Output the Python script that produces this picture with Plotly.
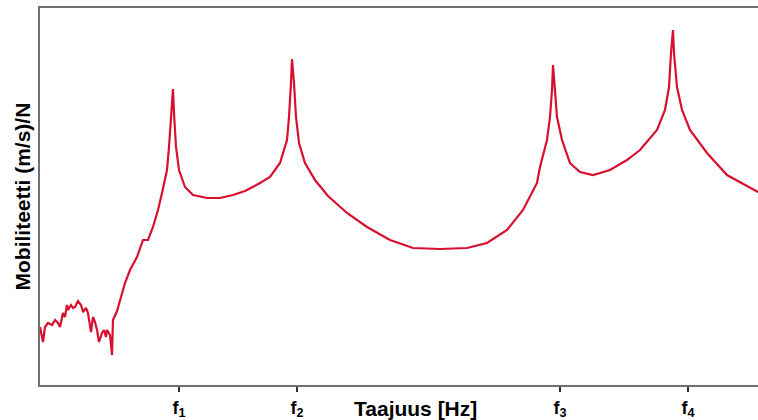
import plotly.graph_objects as go

# Frequency (arbitrary units) and mobility (arbitrary units)
freq = [0, 3, 5, 8, 12, 15, 18, 20, 23, 25, 27, 28, 31, 33, 35, 38, 41, 43, 46, 48,
        51, 53, 55, 57, 59, 62, 64, 66, 67, 70, 72, 73, 77,
        82, 85, 90, 97, 103, 108, 113, 118, 122, 127, 129, 131, 133, 134, 136, 139,
        145, 153, 167, 180, 193, 205, 213, 220, 230, 240, 247, 249, 251, 252, 254,
        256, 259, 265, 275, 288, 307, 327, 350, 373, 400, 427, 447, 467, 483, 490,
        497, 500, 507, 510, 512, 513, 515, 517, 522, 530, 540, 553, 570, 587, 600,
        617, 625, 629, 631, 633, 634, 637, 642, 650, 667, 687, 718]
mobility = [58, 43, 58, 62, 60, 65, 62, 58, 72, 68, 80, 75, 80, 77, 78, 84, 80, 73, 77, 72,
            53, 68, 63, 55, 43, 52, 55, 48, 55, 50, 30, 65, 74,
            92, 102, 115, 128, 145, 145, 158, 175, 192, 215, 238, 272, 296, 272, 238, 215,
            198, 190, 187, 187, 190, 194, 198, 202, 208, 222, 245, 268, 302, 326, 302,
            268, 242, 222, 205, 189, 172, 158, 145, 137, 136, 137, 142, 155, 175, 188,
            202, 218, 245, 268, 295, 320, 295, 268, 245, 222, 213, 210, 215, 225, 235,
            255, 275, 298, 332, 355, 332, 298, 275, 255, 232, 210, 193]

tick_pos = [139, 257, 520, 648]
tick_labels = ["<b>f<sub>1</sub></b>", "<b>f<sub>2</sub></b>",
               "<b>f<sub>3</sub></b>", "<b>f<sub>4</sub></b>"]

fig = go.Figure()
fig.add_trace(go.Scatter(x=freq, y=mobility, mode="lines",
                         line=dict(color="#d81030", width=2.2),
                         hoverinfo="skip", showlegend=False))

fig.update_layout(
    width=758, height=420,
    margin=dict(l=40, r=0, t=8, b=35),
    paper_bgcolor="white", plot_bgcolor="white",
    font=dict(family="Liberation Sans, Arial, sans-serif", color="black"),
    xaxis=dict(range=[0, 718], showgrid=False, zeroline=False,
               showline=True, linecolor="#707070", linewidth=2, mirror=True,
               tickmode="array", tickvals=tick_pos, ticktext=tick_labels,
               ticks="outside", ticklen=5, tickwidth=2, tickcolor="#333333",
               tickfont=dict(size=18, color="black")),
    yaxis=dict(range=[0, 377], showgrid=False, zeroline=False,
               showline=True, linecolor="#707070", linewidth=2,
               showticklabels=False, ticks=""),
    annotations=[
        dict(text="<b>Taajuus [Hz]</b>", xref="paper", yref="paper",
             x=(415 - 40) / 718, y=0, yshift=-23, xanchor="center", yanchor="middle",
             showarrow=False, font=dict(size=21, color="black")),
        dict(text="<b>Mobiliteetti (m/s)/N</b>", xref="paper", yref="paper",
             x=0, xshift=-18, y=0.5, textangle=-90, xanchor="center", yanchor="middle",
             showarrow=False, font=dict(size=21, color="black")),
    ],
)

fig.write_html("out.html", config={"displayModeBar": False},
               post_script="document.body.style.margin='0';document.body.style.padding='0';")
